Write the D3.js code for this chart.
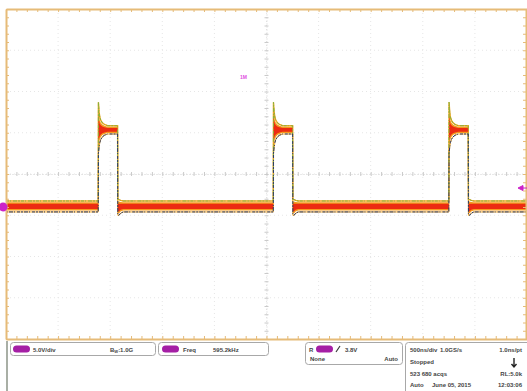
<!DOCTYPE html>
<html>
<head>
<meta charset="UTF-8">
<title>Scope capture</title>
<style>
  body { margin: 0; background: #fff; }
  svg { display: block; font-family: "Liberation Sans", Arial, sans-serif; }
  .grid line { stroke: #e6e6e6; stroke-dasharray: 1,3; }
  .frame path.domain { stroke: #e6bb78; stroke-width: 2; }
  .frame .tick line { stroke: #e6bb78; }
  .center path.domain { stroke: #d2d2d2; stroke-dasharray: 1,2; }
  .center .tick line { stroke: #cacaca; }
  .box { fill: #fff; stroke: #a8a8a8; stroke-width: 1; }
  .lbl { font-size: 6px; font-weight: bold; fill: #444; }
</style>
</head>
<body>
<div class="drawing"></div>
<script src="https://d3js.org/d3.v7.min.js"></script>
<script>
var w = 527, h = 391;

// time (us) of each rising edge
var risesUs = [-1.615, 0.065, 1.75];
// pulse shape relative to its rising edge: dt (us), upper / lower envelope (V)
var shapeDt = [0, 0.002, 0.008, 0.015, 0.025, 0.04, 0.06, 0.09, 0.186, 0.188, 0.2, 0.215, 0.24];
var shapeHi = [0.73, 12.7, 11.6, 10.9, 10.5, 10.2, 10.0, 9.85, 9.85, 0.9, 0.9, 0.8, 0.73];
var shapeLo = [-0.6, 6.5, 7.2, 7.8, 8.2, 8.5, 8.7, 8.85, 8.85, -1.0, -1.0, -0.75, -0.6];
var baseHi = 0.73, baseLo = -0.6;
var trigMarkV = 2.3;

var ch1Labels = ["5.0V/div", "1.0G"];
var measLabels = ["Freq", "595.2kHz"];
var trigLabels = ["R", "3.8V", "None", "Auto"];
var acqLabels = [["500ns/div", "1.0GS/s", "1.0ns/pt"], ["Stopped", ""], ["523 680 acqs", "RL:5.0k"], ["Auto", "June 05, 2015", "12:03:06"]];

var SVG = d3.select("div.drawing").append("svg")
  .attr("width", w).attr("height", h);

var pL = 6, pR = 527, pT = 9, pB = 339;
var x = d3.scaleLinear().domain([-2.5, 2.5]).range([pL, pR]);
var y = d3.scaleLinear().domain([-16, 24]).range([pB, pT]);

/* grid */
var g = SVG.append("g").attr("class", "grid");
g.selectAll("line.v").data(d3.range(-2.0, 2.01, 0.5)).enter().append("line")
  .attr("x1", d => x(d)).attr("x2", d => x(d)).attr("y1", pT).attr("y2", pB);
g.selectAll("line.h").data(d3.range(-11, 24, 5)).enter().append("line")
  .attr("x1", pL).attr("x2", pR).attr("y1", d => y(d)).attr("y2", d => y(d));

/* center cross with minor ticks */
var minorX = d3.range(-2.5, 2.501, 0.1);
var minorY = d3.range(-16, 24.01, 1);
SVG.append("g").attr("class", "center")
  .attr("transform", "translate(0," + y(4) + ")")
  .call(d3.axisBottom(x).tickValues(minorX).tickSize(2).tickFormat("").tickSizeOuter(0))
  .selectAll(".tick line").attr("y1", -2);
SVG.append("g").attr("class", "center")
  .attr("transform", "translate(" + x(0) + ",0)")
  .call(d3.axisLeft(y).tickValues(minorY).tickSize(2).tickFormat("").tickSizeOuter(0))
  .selectAll(".tick line").attr("x1", 2);

/* trace */
var pts = [{t: -2.5, hi: baseHi, lo: baseLo}];
risesUs.forEach(function (t0) {
  shapeDt.forEach(function (dt, i) {
    pts.push({t: t0 + dt, hi: shapeHi[i], lo: shapeLo[i]});
  });
});
pts.push({t: 2.5, hi: baseHi, lo: baseLo});

function band(k) {
  return d3.area().x(d => x(d.t))
    .y0(d => y((d.hi + d.lo) / 2 - k * (d.hi - d.lo) / 2))
    .y1(d => y((d.hi + d.lo) / 2 + k * (d.hi - d.lo) / 2));
}
var tr = SVG.append("g").attr("class", "trace");
tr.append("path").attr("d", d3.line().x(d => x(d.t)).y(d => y(d.hi))(pts))
  .attr("fill", "none").attr("stroke", "#f6a623").attr("stroke-width", 1.4);
tr.append("path").attr("d", d3.line().x(d => x(d.t)).y(d => y(d.lo))(pts))
  .attr("fill", "none").attr("stroke", "#f6a623").attr("stroke-width", 1);
tr.append("path").attr("d", band(0.75)(pts)).attr("fill", "#f59a1f");
tr.append("path").attr("d", band(0.48)(pts)).attr("fill", "#ec2b12");
tr.append("path").attr("d", d3.line().x(d => x(d.t)).y(d => y(d.hi))(pts))
  .attr("fill", "none").attr("stroke", "#86b23c").attr("stroke-width", 1)
  .attr("stroke-dasharray", "3,1,1,2,4,1,2,1");
tr.append("path").attr("d", d3.line().x(d => x(d.t)).y(d => y(d.lo))(pts))
  .attr("fill", "none").attr("stroke", "#22386a").attr("stroke-width", 1)
  .attr("stroke-dasharray", "2,1,4,1,1,2,3,1");

/* frame */
SVG.append("g").attr("class", "frame").attr("transform", "translate(0," + pT + ")")
  .call(d3.axisTop(x).tickValues(minorX).tickSize(-3).tickFormat("").tickSizeOuter(0));
SVG.append("g").attr("class", "frame").attr("transform", "translate(0," + pB + ")")
  .call(d3.axisBottom(x).tickValues(minorX).tickSize(-3).tickFormat("").tickSizeOuter(0));
SVG.append("g").attr("class", "frame").attr("transform", "translate(" + pL + ",0)")
  .call(d3.axisLeft(y).tickValues(minorY).tickSize(-3).tickFormat("").tickSizeOuter(0));
SVG.append("g").attr("class", "frame").attr("transform", "translate(" + (pR - 1) + ",0)")
  .call(d3.axisRight(y).tickValues(minorY).tickSize(-3).tickFormat("").tickSizeOuter(0));

/* markers */
SVG.append("circle").attr("cx", 3).attr("cy", y(0)).attr("r", 4.5).attr("fill", "#cc22c8");
SVG.append("path")
  .attr("d", "M" + (pR - 9) + "," + y(trigMarkV) + "l5,-2.5v5z M" + (pR - 4) + "," + y(trigMarkV) + "h5")
  .attr("fill", "#cc22c8").attr("stroke", "#cc22c8").attr("stroke-width", 1);
SVG.append("text").attr("x", 240).attr("y", 79).attr("fill", "#e050e0")
  .attr("font-size", 5).attr("font-weight", "bold").text("1M");

/* status panel */
var p = SVG.append("g").attr("class", "panel");
p.append("line").attr("x1", 7).attr("x2", 7).attr("y1", 341).attr("y2", h).attr("stroke", "#707a6a").attr("stroke-width", 1.2);

function pill(px, py) {
  p.append("rect").attr("x", px).attr("y", py).attr("width", 17).attr("height", 7)
    .attr("rx", 3.5).attr("fill", "#a51fa5");
}
function lbl(tx, ty, s, anchor) {
  return p.append("text").attr("class", "lbl").attr("x", tx).attr("y", ty)
    .attr("text-anchor", anchor || "start").text(s);
}

p.append("rect").attr("class", "box").attr("x", 10.5).attr("y", 342.5).attr("width", 145).attr("height", 13).attr("rx", 3);
pill(13, 345.5);
lbl(33, 351.5, ch1Labels[0]);
var bw = lbl(110, 351.5, "B");
bw.append("tspan").attr("font-size", 4).attr("dy", 1.5).text("W");
bw.append("tspan").attr("dy", -1.5).text(":" + ch1Labels[1]);

p.append("rect").attr("class", "box").attr("x", 158.5).attr("y", 342.5).attr("width", 110).attr("height", 13).attr("rx", 3);
pill(162, 345.5);
lbl(183, 351.5, measLabels[0]);
lbl(213, 351.5, measLabels[1]);

p.append("rect").attr("class", "box").attr("x", 305.5).attr("y", 342.5).attr("width", 97).attr("height", 22).attr("rx", 3);
lbl(309, 351.5, trigLabels[0]);
pill(316, 345.5);
p.append("path").attr("d", "M336,352 l4,-6").attr("stroke", "#3a3a3a").attr("stroke-width", 1.2);
lbl(345, 351.5, trigLabels[1]);
lbl(310, 361, trigLabels[2]);
lbl(398, 361, trigLabels[3], "end");

p.append("rect").attr("class", "box").attr("x", 405.5).attr("y", 342.5).attr("width", 125).attr("height", 52).attr("rx", 3);
lbl(410, 351.5, acqLabels[0][0]);
lbl(440, 351.5, acqLabels[0][1]);
lbl(522, 351.5, acqLabels[0][2], "end");
lbl(410, 364, acqLabels[1][0]);
p.append("path").attr("d", "M514,358v8 M511.5,364l2.5,3l2.5,-3").attr("stroke", "#222").attr("stroke-width", 1.4).attr("fill", "none");
lbl(410, 376, acqLabels[2][0]);
lbl(522, 376, acqLabels[2][1], "end");
lbl(410, 387, acqLabels[3][0]);
lbl(432, 387, acqLabels[3][1]);
lbl(522, 387, acqLabels[3][2], "end");
</script>
</body>
</html>
